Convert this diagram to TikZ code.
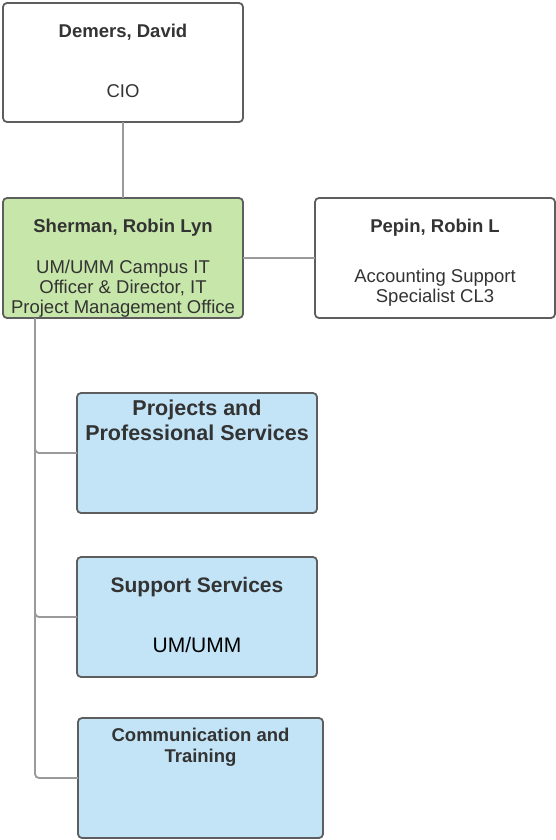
\documentclass[tikz,border=0pt]{standalone}
\usepackage{xcolor}
\usepackage{fontspec}
\setmainfont{Liberation Sans}
\usepackage{tikz}
\usetikzlibrary{calc,positioning}
\definecolor{boxline}{HTML}{5E5E5E}
\definecolor{linkgray}{HTML}{9A9A9A}
\definecolor{inkgray}{HTML}{333333}
\definecolor{pmogreen}{HTML}{C7E7AA}
\definecolor{unitblue}{HTML}{C2E4F6}
\tikzstyle{link} = [draw=linkgray, line width=1.9pt, rounded corners=4pt]
\tikzstyle{box} = [draw=boxline, line width=1.8pt, rounded corners=4pt, fill=white,
  minimum width=240pt, minimum height=120pt, outer sep=0pt, inner sep=0pt]
\tikzstyle{unit} = [box, fill=unitblue]
\tikzstyle{txt} = [inner sep=0pt, anchor=north, align=center, text=inkgray,
  font={\fontsize{18.5}{20}\selectfont}]
\tikzstyle{heading} = [txt, font={\fontsize{18.5}{20}\selectfont\bfseries}]

\begin{document}
\begin{tikzpicture}[x=1pt, y=-1pt]
      \useasboundingbox (0,0) rectangle (556,840);

      \node[box, minimum height=119pt] (cio) at (123,62.5) {};
      \node[box, fill=pmogreen] (pmo)  [below=76pt of cio] {};
      \node[box]                (acct) [right=72pt of pmo] {};
      \node[unit] (pps)  at (197,453) {};
      \node[unit] (sup)  at (197,617) {};
      \node[unit, minimum width=245pt] (comm) at (200.5,778) {};

      \path[link] (cio) -- (pmo);
      \path[link] (pmo) -- (acct);
      \path[link] ([xshift=-88pt]pmo.south) |- (pps.west);
      \path[link] ([xshift=-88pt]pmo.south) |- (sup.west);
      \path[link] ([xshift=-88pt]pmo.south) |- (comm.west);

      \node[heading] (cioName)  [below=20.5pt of cio.north]  {Demers, David};
      \node[txt]     (cioRole)  [below=81.5pt of cio.north]  {CIO};
      \node[heading] (pmoName)  [below=20.5pt of pmo.north]  {Sherman, Robin Lyn};
      \node[txt]     (pmoRole)  [below=62pt of pmo.north]
        {UM/UMM Campus IT\\Officer \& Director, IT\\Project Management Office};
      \node[heading] (acctName) [below=21pt of acct.north] {Pepin, Robin L};
      \node[txt]     (acctRole) [below=71pt of acct.north]
        {Accounting Support\\Specialist CL3};
      \node[heading, font={\fontsize{21.5}{25.7}\selectfont\bfseries}]
        (ppsName) [below=6.5pt of pps.north] {Projects and\\Professional Services};
      \node[heading, font={\fontsize{21}{24}\selectfont\bfseries}]
        (supName) [below=20pt of sup.north] {Support Services};
      \node[txt, text=black, font={\fontsize{21}{24}\selectfont}]
        (supRole) [below=80pt of sup.north] {UM/UMM};
      \node[heading, font={\fontsize{18.5}{21.7}\selectfont\bfseries}]
        (commName) [below=9.5pt of comm.north] {Communication and\\Training};
\end{tikzpicture}
\end{document}
